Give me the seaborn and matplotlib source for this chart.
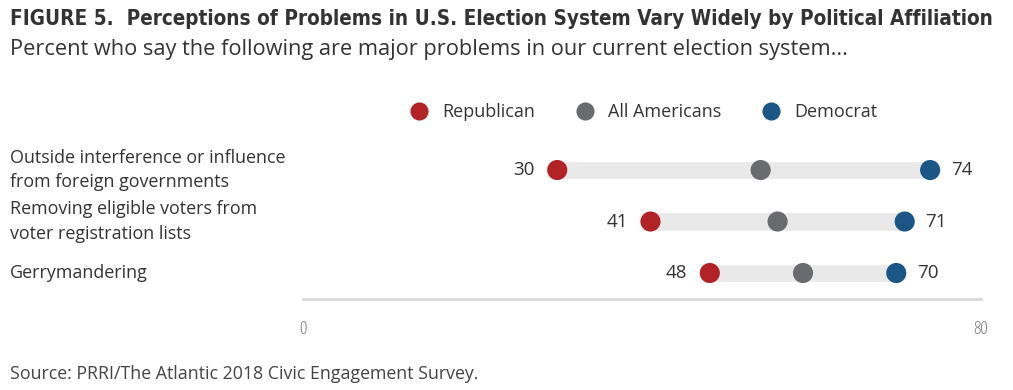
import pandas as pd
import matplotlib.pyplot as plt
import seaborn as sns

categories = ['Outside interference or influence\nfrom foreign governments',
              'Removing eligible voters from\nvoter registration lists',
              'Gerrymandering']
republican = [30, 41, 48]
all_americans = [54, 56, 59]
democrat = [74, 71, 70]
groups = ['Republican', 'All Americans', 'Democrat']
colors = ['#b22328', '#696b6e', '#1b5687']


def draw_chart():
    sns.set_style('white')
    plt.rcParams['font.family'] = ['Open Sans', 'DejaVu Sans']

    wide = pd.DataFrame({'category': categories, 'Republican': republican,
                         'All Americans': all_americans, 'Democrat': democrat})
    wide['row'] = range(len(categories))
    long = wide.melt(id_vars=['category', 'row'], value_vars=groups,
                     var_name='group', value_name='pct')

    fig = plt.figure(figsize=(10.13, 3.9), dpi=100)
    ax = fig.add_axes([0.2991, 0.2333, 0.6693, 0.4077])

    # grey range bars from republican to democrat
    ax.barh(wide['row'], wide['Democrat'] - wide['Republican'], left=wide['Republican'],
            height=0.36, color='#e8e9e8', zorder=1)

    sns.scatterplot(data=long, x='pct', y='row', hue='group', hue_order=groups,
                    palette=colors, s=210, linewidth=0, zorder=3, ax=ax)

    # value labels
    for i, (r, d) in enumerate(zip(republican, democrat)):
        ax.annotate(str(r), (r, i), xytext=(-16, 0), textcoords='offset points',
                    ha='right', va='center', fontsize=13.5, color='#333333')
        ax.annotate(str(d), (d, i), xytext=(15, 0), textcoords='offset points',
                    ha='left', va='center', fontsize=13.5, color='#333333')

    # category labels on the left
    for i, cat in enumerate(categories):
        ax.annotate(cat, (0, i), xycoords=('figure fraction', 'data'),
                    xytext=(7, 0), textcoords='offset points', ha='left', va='center',
                    fontsize=12.9, color='#333333', linespacing=1.45)

    ax.set_xlim(0, 80)
    ax.set_ylim(2.505, -0.583)
    ax.set_xticks([0, 80])
    ax.set_yticks([])
    ax.set_xlabel('')
    ax.set_ylabel('')
    sns.despine(ax=ax, left=True)
    ax.spines['bottom'].set_color('#d9d9d9')
    ax.spines['bottom'].set_linewidth(2)
    ax.tick_params(axis='x', direction='out', length=5, width=1.5, color='#d9d9d9',
                   pad=10, labelsize=13.5, labelcolor='#7a7a7a')
    for lab in ax.get_xticklabels():
        lab.set_fontstretch('condensed')

    leg = ax.legend(ncol=3, frameon=False, loc='center', bbox_to_anchor=(0.631, 0.713),
                    bbox_transform=fig.transFigure, fontsize=13, handletextpad=0.3,
                    columnspacing=1.75, markerscale=0.9)
    for t in leg.get_texts():
        t.set_color('#333333')

    fig.text(0.010, 0.952, 'FIGURE 5.  Perceptions of Problems in U.S. Election System Vary Widely by Political Affiliation',
             fontsize=14.85, fontweight='bold', fontstretch='condensed', color='#333333', va='center',
             family=['DejaVu Sans', 'Open Sans'])
    fig.text(0.010, 0.872, 'Percent who say the following are major problems in our current election system...',
             fontsize=15.7, color='#333333', va='center')
    fig.text(0.010, 0.04, 'Source: PRRI/The Atlantic 2018 Civic Engagement Survey.',
             fontsize=12.8, color='#444444', va='center')

    fig.savefig('out.png', dpi=100)


if __name__ == '__main__':
    draw_chart()
